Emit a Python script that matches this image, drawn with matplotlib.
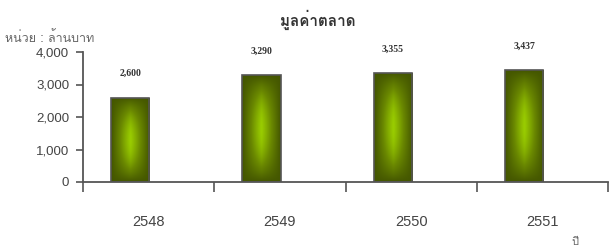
import numpy as np
import matplotlib
matplotlib.use("Agg")
from matplotlib import pyplot as plt
from matplotlib import font_manager
from matplotlib.colors import LinearSegmentedColormap

years = ["2548", "2549", "2550", "2551"]
values = [2600, 3290, 3355, 3437]
value_labels = ["2,600", "3,290", "3,355", "3,437"]
yticks = [0, 1000, 2000, 3000, 4000]
ytick_labels = ["0", "1,000", "2,000", "3,000", "4,000"]

# find a font that has Thai glyphs
thai_font = None
try:
    from fontTools.ttLib import TTFont
    for f in font_manager.fontManager.ttflist:
        try:
            tt = TTFont(f.fname, fontNumber=0, lazy=True)
            if 0x0E21 in tt.getBestCmap():
                thai_font = f.name
                break
        except Exception:
            pass
except Exception:
    pass
thai_family = [thai_font, "DejaVu Sans"] if thai_font else ["DejaVu Sans"]

fig = plt.figure(figsize=(6.12, 2.48), dpi=100)
ax = fig.add_axes([83/612, 1-182/248, 525/612, 130/248])

x = np.arange(len(years))
centers = x + 0.5 - 0.14
bars = ax.bar(centers, values, width=0.29, color="none", edgecolor="#555555", linewidth=1.2, zorder=3)

cmap = LinearSegmentedColormap.from_list("g", ["#445600", "#6a8800", "#99cc00"])
u = np.linspace(-1, 1, 60)
v = np.linspace(-1, 1, 120)
U, V = np.meshgrid(u, v)
grad = (1 - np.abs(U)**1.1) * (1 - np.abs(V)**2.0)
for b in bars:
    bx, by = b.get_x(), b.get_y()
    w, h = b.get_width(), b.get_height()
    im = ax.imshow(grad, cmap=cmap, extent=[bx, bx+w, by, by+h], aspect="auto", zorder=2,
                   origin="lower", interpolation="bilinear")
    im.set_clip_path(b)

for c, val, lab in zip(centers, values, value_labels):
    ax.annotate(lab, (c, val), xytext=(0, 14), textcoords="offset points", ha="center", va="bottom",
                fontsize=7, fontweight="bold", family="Liberation Serif", color="#333333")

ax.set_xlim(0, 4)
ax.set_ylim(0, 4000)
ax.set_yticks(yticks)
ax.set_yticklabels(ytick_labels, fontsize=9.5, family="Liberation Sans", color="#444444")
ax.set_xticks([0, 1, 2, 3, 4])
ax.set_xticklabels([])
ax.set_xticks(x + 0.5, minor=True)
ax.set_xticklabels(years, minor=True, fontsize=10.5, family="Liberation Sans", color="#444444")
ax.tick_params(axis="x", which="major", length=7, width=1.2, color="#555555", direction="out")
ax.tick_params(axis="x", which="minor", length=0, pad=24)
ax.tick_params(axis="y", length=5, width=1.2, color="#555555", pad=5)
for s in ["top", "right"]:
    ax.spines[s].set_visible(False)
for s in ["left", "bottom"]:
    ax.spines[s].set_color("#555555")
    ax.spines[s].set_linewidth(1.3)
ax.set_facecolor("none")

fig.text(318/612, 1-20/248, "มูลค่าตลาด", ha="center", va="center", fontsize=11, fontweight="bold",
         family=thai_family, color="#333333")
fig.text(5/612, 1-38/248, "หน่วย : ล้านบาท", ha="left", va="center", fontsize=9,
         family=thai_family, color="#666666")
fig.text(575/612, 1-242/248, "ปี", ha="center", va="center", fontsize=8,
         family=thai_family, color="#666666")

fig.savefig("out.png", dpi=100)
